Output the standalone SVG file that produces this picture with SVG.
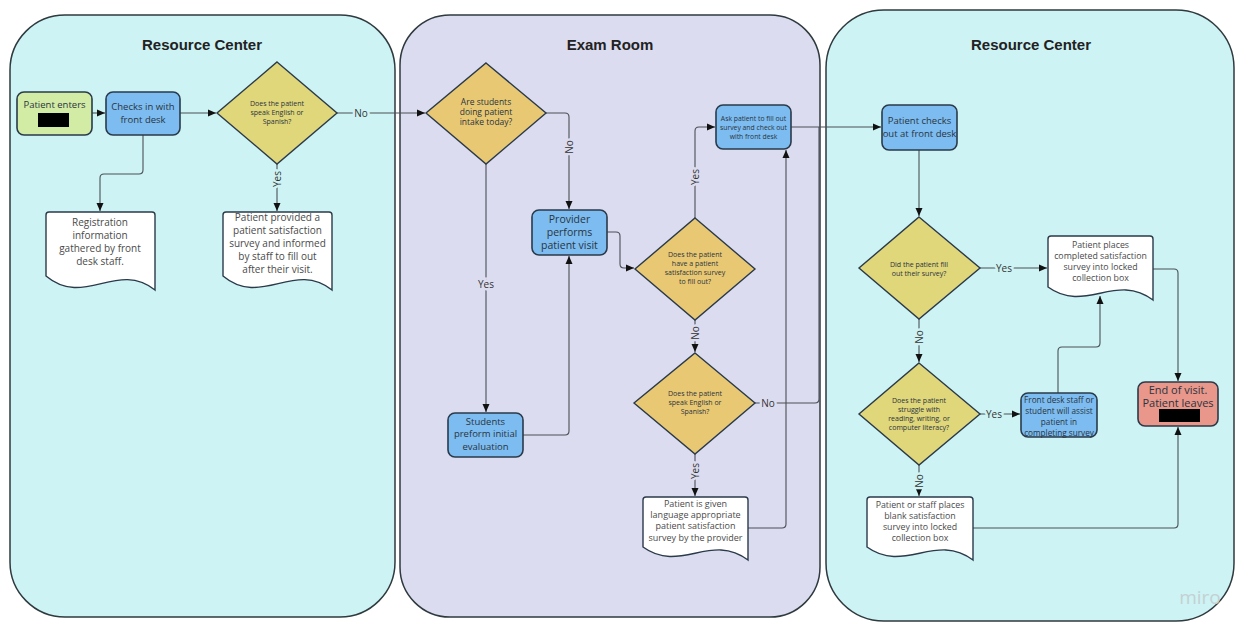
<svg xmlns="http://www.w3.org/2000/svg" width="1238" height="625" viewBox="0 0 1238 625">
<style>
.panelC{fill:#cdf3f4;stroke:#2f3a3f;stroke-width:1.5}
.panelL{fill:#dcdcf0;stroke:#2f3a3f;stroke-width:1.5}
.title{font-family:"Liberation Sans",Arial,sans-serif;font-weight:bold;font-size:15px;fill:#222;text-anchor:middle}
.t{font-family:"Open Sans","Liberation Sans",sans-serif;text-anchor:middle;fill:#2a3440}
.doct{font-family:"Open Sans","Liberation Sans",sans-serif;text-anchor:middle;fill:#4a4a4a}
.blue{fill:#7cbcf0;stroke:#2a3a4a;stroke-width:1.6}
.green{fill:#d2eba5;stroke:#2a3a4a;stroke-width:1.6}
.red{fill:#e8978a;stroke:#2a3a4a;stroke-width:1.6}
.dY{fill:#e0d67a;stroke:#2a3a4a;stroke-width:1.4}
.dO{fill:#e9c873;stroke:#2a3a4a;stroke-width:1.4}
.doc{fill:#ffffff;stroke:#2a3a4a;stroke-width:1.4}
.c{fill:none;stroke:#4a5055;stroke-width:1.1}
.lab{font-family:"Open Sans","Liberation Sans",sans-serif;font-size:10px;fill:#333;text-anchor:middle;paint-order:stroke;stroke-width:5px}
.onC{stroke:#cdf3f4}
.onL{stroke:#dcdcf0}
</style>
<defs>
<marker id="arr" markerUnits="userSpaceOnUse" markerWidth="8" markerHeight="8" refX="8" refY="4" orient="auto">
<path d="M0,0.5 L8,4 L0,7.5 z" fill="#111"/>
</marker>
</defs>

<g id="panels">
<rect class="panelC" x="10" y="15" width="385" height="602" rx="55"/>
<rect class="panelL" x="400" y="15" width="420" height="602" rx="50"/>
<rect class="panelC" x="826" y="10" width="408" height="611" rx="58"/>
<text class="title" x="202" y="50">Resource Center</text>
<text class="title" x="610" y="50">Exam Room</text>
<text class="title" x="1031" y="50">Resource Center</text>
</g>

<g id="connectors">
<path class="c" d="M92,113 H105" marker-end="url(#arr)"/>
<path class="c" d="M180,113 H216" marker-end="url(#arr)"/>
<path class="c" d="M143,135 V170 Q143,174 139,174 H104 Q100,174 100,178 V211" marker-end="url(#arr)"/>
<path class="c" d="M277,164 V211" marker-end="url(#arr)"/>
<path class="c" d="M337,113 H425" marker-end="url(#arr)"/>
<path class="c" d="M546,113 H565 Q569,113 569,117 V209" marker-end="url(#arr)"/>
<path class="c" d="M486,164 V412" marker-end="url(#arr)"/>
<path class="c" d="M523,435 H565 Q569,435 569,431 V256" marker-end="url(#arr)"/>
<path class="c" d="M607,232 H616 Q620,232 620,236 V264 Q620,268 624,268 H634" marker-end="url(#arr)"/>
<path class="c" d="M695,218 V131 Q695,127 699,127 H715" marker-end="url(#arr)"/>
<path class="c" d="M791,127 H881" marker-end="url(#arr)"/>
<path class="c" d="M695,320 V352" marker-end="url(#arr)"/>
<path class="c" d="M755,403 H815 Q819,403 819,399 V127"/>
<path class="c" d="M695,454 V496" marker-end="url(#arr)"/>
<path class="c" d="M748,528 H782 Q786,528 786,524 V150" marker-end="url(#arr)"/>
<path class="c" d="M919,150 V216" marker-end="url(#arr)"/>
<path class="c" d="M980,268 H1047" marker-end="url(#arr)"/>
<path class="c" d="M1153,269 H1174 Q1178,269 1178,273 V381" marker-end="url(#arr)"/>
<path class="c" d="M919,319 V362" marker-end="url(#arr)"/>
<path class="c" d="M980,414 H1020" marker-end="url(#arr)"/>
<path class="c" d="M1058,393 V351 Q1058,347 1062,347 H1096 Q1100,347 1100,343 V296" marker-end="url(#arr)"/>
<path class="c" d="M919,465 V496" marker-end="url(#arr)"/>
<path class="c" d="M973,528 H1174 Q1178,528 1178,524 V427" marker-end="url(#arr)"/>
<text class="lab onC" x="361" y="117">No</text>
<text class="lab onC" transform="translate(281,179) rotate(-90)">Yes</text>
<text class="lab onL" transform="translate(573,147) rotate(-90)">No</text>
<text class="lab onL" x="486" y="288">Yes</text>
<text class="lab onL" transform="translate(699,177) rotate(-90)">Yes</text>
<text class="lab onL" transform="translate(699,333) rotate(-90)">No</text>
<text class="lab onL" x="768" y="407">No</text>
<text class="lab onL" transform="translate(699,471) rotate(-90)">Yes</text>
<text class="lab onC" x="1004" y="272">Yes</text>
<text class="lab onC" transform="translate(923,337) rotate(-90)">No</text>
<text class="lab onC" x="994" y="418">Yes</text>
<text class="lab onC" transform="translate(923,481) rotate(-90)">No</text>
</g>

<g id="patient-enters">
<rect class="green" x="17" y="92" width="75" height="43" rx="7"/>
<text class="t" x="54.5" y="108" font-size="9.5">Patient enters</text>
<rect x="38" y="113" width="31" height="14" fill="#000"/>
</g>

<g id="checks-in">
<rect class="blue" x="106" y="92" width="74" height="43" rx="7"/>
<text class="t" x="143" y="110" font-size="9.5">Checks in with</text>
<text class="t" x="143" y="123" font-size="9.5">front desk</text>
</g>

<g id="decision-language-1">
<polygon class="dY" points="277,62 337,113 277,164 217,113"/>
<text class="t" x="277" y="106" font-size="7">Does the patient</text>
<text class="t" x="277" y="115" font-size="7">speak English or</text>
<text class="t" x="277" y="124" font-size="7">Spanish?</text>
</g>

<g id="doc-registration">
<path class="doc" d="M49,212 H152 Q155,212 155,215 V290 C117,260 84,308 46,276 V215 Q46,212 49,212 Z"/>
<text class="doct" x="100" y="226" font-size="10">Registration</text>
<text class="doct" x="100" y="239" font-size="10">information</text>
<text class="doct" x="100" y="252" font-size="10">gathered by front</text>
<text class="doct" x="100" y="265" font-size="10">desk staff.</text>
</g>

<g id="doc-survey-provided">
<path class="doc" d="M226,212 H329 Q332,212 332,215 V290 C294,260 261,308 223,276 V215 Q223,212 226,212 Z"/>
<text class="doct" x="277.5" y="221" font-size="10" fill="#333">Patient provided a</text>
<text class="doct" x="277.5" y="234" font-size="10" fill="#333">patient satisfaction</text>
<text class="doct" x="277.5" y="247" font-size="10" fill="#333">survey and informed</text>
<text class="doct" x="277.5" y="260" font-size="10" fill="#333">by staff to fill out</text>
<text class="doct" x="277.5" y="273" font-size="10" fill="#333">after their visit.</text>
</g>

<g id="decision-students">
<polygon class="dO" points="486,63 546,113 486,164 426,113"/>
<text class="t" x="486" y="105" font-size="8.5">Are students</text>
<text class="t" x="486" y="115" font-size="8.5">doing patient</text>
<text class="t" x="486" y="125" font-size="8.5">intake today?</text>
</g>

<g id="provider-visit">
<rect class="blue" x="532" y="210" width="75" height="45" rx="7"/>
<text class="t" x="569.5" y="223" font-size="10.5">Provider</text>
<text class="t" x="569.5" y="236" font-size="10.5">performs</text>
<text class="t" x="569.5" y="249" font-size="10.5">patient visit</text>
</g>

<g id="students-evaluation">
<rect class="blue" x="448" y="413" width="75" height="44" rx="7"/>
<text class="t" x="485.5" y="425" font-size="9.5">Students</text>
<text class="t" x="485.5" y="437" font-size="9.5">preform initial</text>
<text class="t" x="485.5" y="450" font-size="9.5">evaluation</text>
</g>

<g id="decision-has-survey">
<polygon class="dO" points="695,218 755,269 695,320 635,269"/>
<text class="t" x="695" y="257" font-size="7">Does the patient</text>
<text class="t" x="695" y="266" font-size="7">have a patient</text>
<text class="t" x="695" y="275" font-size="7">satisfaction survey</text>
<text class="t" x="695" y="284" font-size="7">to fill out?</text>
</g>

<g id="ask-patient">
<rect class="blue" x="716" y="105" width="75" height="44" rx="7"/>
<text class="t" x="753.5" y="121" font-size="6.8">Ask patient to fill out</text>
<text class="t" x="753.5" y="130" font-size="6.8">survey and check out</text>
<text class="t" x="753.5" y="139" font-size="6.8">with front desk</text>
</g>

<g id="decision-language-2">
<polygon class="dO" points="695,353 755,403 695,454 634,403"/>
<text class="t" x="695" y="396" font-size="7">Does the patient</text>
<text class="t" x="695" y="405" font-size="7">speak English or</text>
<text class="t" x="695" y="414" font-size="7">Spanish?</text>
</g>

<g id="doc-language-survey">
<path class="doc" d="M646,497 H745 Q748,497 748,500 V560 C711,532 680,574 643,547 V500 Q643,497 646,497 Z"/>
<text class="doct" x="695.5" y="507" font-size="9">Patient is given</text>
<text class="doct" x="695.5" y="518" font-size="9">language appropriate</text>
<text class="doct" x="695.5" y="529" font-size="9">patient satisfaction</text>
<text class="doct" x="695.5" y="541" font-size="9">survey by the provider</text>
</g>

<g id="checks-out">
<rect class="blue" x="882" y="105" width="75" height="45" rx="7"/>
<text class="t" x="919.5" y="124" font-size="9.5">Patient checks</text>
<text class="t" x="919.5" y="137" font-size="9.5">out at front desk</text>
</g>

<g id="decision-filled">
<polygon class="dY" points="919,217 980,268 919,319 859,268"/>
<text class="t" x="919" y="267" font-size="7">Did the patient fill</text>
<text class="t" x="919" y="276" font-size="7">out their survey?</text>
</g>

<g id="doc-completed">
<path class="doc" d="M1051,236 H1150 Q1153,236 1153,239 V300 C1116,272 1085,314 1048,287 V239 Q1048,236 1051,236 Z"/>
<text class="doct" x="1100.5" y="248" font-size="8.8" fill="#333">Patient places</text>
<text class="doct" x="1100.5" y="259" font-size="8.8" fill="#333">completed satisfaction</text>
<text class="doct" x="1100.5" y="270" font-size="8.8" fill="#333">survey into locked</text>
<text class="doct" x="1100.5" y="281" font-size="8.8" fill="#333">collection box</text>
</g>

<g id="decision-literacy">
<polygon class="dY" points="919,363 980,414 919,465 859,414"/>
<text class="t" x="919" y="403" font-size="7">Does the patient</text>
<text class="t" x="919" y="412" font-size="7">struggle with</text>
<text class="t" x="919" y="421" font-size="7">reading, writing, or</text>
<text class="t" x="919" y="430" font-size="7">computer literacy?</text>
</g>

<g id="assist">
<rect class="blue" x="1021" y="393" width="76" height="44" rx="7"/>
<text class="t" x="1059" y="403" font-size="8.2">Front desk staff or</text>
<text class="t" x="1059" y="414" font-size="8.2">student will assist</text>
<text class="t" x="1059" y="425" font-size="8.2">patient in</text>
<text class="t" x="1059" y="436" font-size="8.2">completing survey</text>
</g>

<g id="doc-blank">
<path class="doc" d="M870,497 H970 Q973,497 973,500 V560 C936,532 904,574 867,547 V500 Q867,497 870,497 Z"/>
<text class="doct" x="920" y="508" font-size="8.8">Patient or staff places</text>
<text class="doct" x="920" y="519" font-size="8.8">blank satisfaction</text>
<text class="doct" x="920" y="530" font-size="8.8">survey into locked</text>
<text class="doct" x="920" y="541" font-size="8.8">collection box</text>
</g>

<g id="end-visit">
<rect class="red" x="1138" y="382" width="80" height="44" rx="7"/>
<text class="t" x="1178" y="394" font-size="11" fill="#222">End of visit.</text>
<text class="t" x="1178" y="407" font-size="11" fill="#222">Patient leaves</text>
<rect x="1159" y="409" width="41" height="13" fill="#000"/>
</g>

<text x="1200" y="604" font-family="'Open Sans','Liberation Sans',sans-serif" font-size="19" fill="#c4d0d2" text-anchor="middle">miro</text>
</svg>
